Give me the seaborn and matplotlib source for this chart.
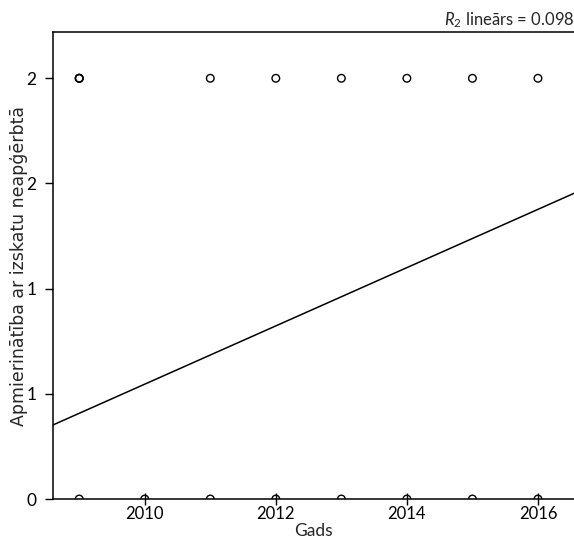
import matplotlib
matplotlib.use("Agg")
import matplotlib.pyplot as plt
import seaborn as sns
import pandas as pd

# --- DATA ---
years = [2009, 2009, 2009, 2011, 2012, 2013, 2014, 2015, 2016,
         2009, 2010, 2011, 2012, 2013, 2014, 2015, 2016]
values = [2, 2, 2, 2, 2, 2, 2, 2, 2,
          0, 0, 0, 0, 0, 0, 0, 0]

# linear fit shown in the chart
fit_start = 2008.6
fit_end = 2016.55
fit_at_start = 0.352
fit_slope = 0.1385
r2_text = "0.098"

x_ticks = [2010, 2012, 2014, 2016]
y_ticks = [0, 0.5, 1.0, 1.5, 2.0]
y_tick_labels = ["0", "1", "1", "2", "2"]

df = pd.DataFrame({"Gads": years, "val": values})
fit_df = pd.DataFrame({"x": [fit_start, fit_end]})
fit_df["y"] = fit_at_start + fit_slope * (fit_df["x"] - fit_start)

# --- STYLE ---
sns.set_style("white")
plt.rcParams["font.family"] = ["Lato", "DejaVu Sans"]
plt.rcParams["mathtext.fontset"] = "custom"
plt.rcParams["mathtext.it"] = "Lato:italic"
plt.rcParams["mathtext.rm"] = "Lato"

fig = plt.figure(figsize=(5.74, 5.4), dpi=100)
ax = fig.add_axes([53 / 574, 1 - 499 / 540, 1 - 53 / 574, (499 - 32) / 540])

sns.scatterplot(data=df, x="Gads", y="val", ax=ax, marker="o", s=30,
                facecolor="none", edgecolor="black", linewidth=1.0, legend=False)
sns.lineplot(data=fit_df, x="x", y="y", ax=ax, color="black", linewidth=1.1)

ax.set_xlim(fit_start, fit_end)
ax.set_ylim(0, 2.22)
ax.set_xticks(x_ticks)
ax.set_yticks(y_ticks)
ax.set_yticklabels(y_tick_labels)

ax.tick_params(axis="x", direction="inout", length=8, width=1, labelsize=12, pad=1)
ax.tick_params(axis="y", direction="out", length=6, width=1, labelsize=12.5, pad=6)
ax.tick_params(axis="both", colors="black", left=True, bottom=True)

for side in ["left", "bottom", "top"]:
    ax.spines[side].set_color("black")
    ax.spines[side].set_linewidth(1.1)
ax.spines["right"].set_visible(False)

ax.set_xlabel("Gads", fontsize=12.5, labelpad=1)
ax.set_ylabel("Apmierinātība ar izskatu neapģērbtā", fontsize=12.5,
              fontfamily="DejaVu Sans", labelpad=-1)

ax.text(1.0, 1.004, r"$\mathit{R}_{2}$" + " lineārs = " + r2_text, transform=ax.transAxes,
        ha="right", va="bottom", fontsize=12)

fig.savefig("out.png", dpi=100)
